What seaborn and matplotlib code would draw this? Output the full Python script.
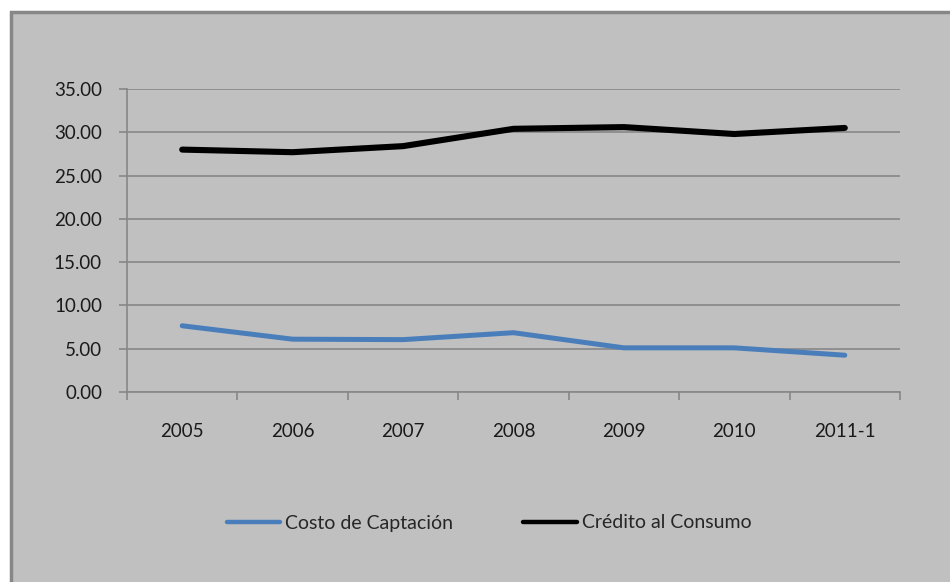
import matplotlib
matplotlib.use("Agg")
import matplotlib.pyplot as plt
import matplotlib.patches as mpatches
import seaborn as sns
import pandas as pd

# Annual interest rates (%)
periods = ["2005", "2006", "2007", "2008", "2009", "2010", "2011-1"]
costo_captacion = [7.65, 6.10, 6.05, 6.85, 5.10, 5.10, 4.25]
credito_consumo = [28.0, 27.7, 28.4, 30.4, 30.6, 29.8, 30.5]
series_names = ["Costo de Captación", "Crédito al Consumo"]
y_ticks = [0, 5, 10, 15, 20, 25, 30, 35]

df = pd.DataFrame({
    "periodo": periods * 2,
    "x": list(range(len(periods))) * 2,
    "tasa": costo_captacion + credito_consumo,
    "serie": [series_names[0]] * len(periods) + [series_names[1]] * len(periods),
})

sns.set_theme(style="white")
plt.rcParams["font.family"] = ["Lato", "DejaVu Sans"]

FS = 13.5
W, H = 950, 582
fig = plt.figure(figsize=(9.5, 5.82), dpi=100)
fig.patch.set_facecolor("white")

# gray chart area with darker border
frame = mpatches.Rectangle((10.5 / W, -0.01), 1.05, (H - 11.5) / H + 0.01,
                           transform=fig.transFigure, facecolor="#C0C0C0",
                           edgecolor="#878787", linewidth=2.5, zorder=-5)
fig.patches.append(frame)

ax = fig.add_axes([127 / W, 1 - 392 / H, (900 - 127) / W, (392 - 89) / H])
ax.set_zorder(1)
ax.patch.set_alpha(0)

palette = {series_names[0]: "#4A7EBB", series_names[1]: "#000000"}
sns.lineplot(data=df, x="x", y="tasa", hue="serie", palette=palette,
             ax=ax, linewidth=4.2, legend=False, zorder=3)
for line in ax.lines:
    line.set_solid_capstyle("round")
    line.set_solid_joinstyle("round")
ax.lines[0].set_linewidth(3.6)
ax.lines[1].set_linewidth(4.4)

ax.set_xlim(-0.5, len(periods) - 0.5)
ax.set_ylim(0, 35)
ax.set_yticks(y_ticks)
ax.set_yticklabels([f"{v:.2f}" for v in y_ticks], fontsize=FS, color="#1a1a1a")
ax.yaxis.grid(True, color="#878787", linewidth=1.2)
ax.set_axisbelow(True)

# category boundaries as major ticks, labels centered on minor ticks
ax.set_xticks([i - 0.5 for i in range(len(periods) + 1)])
ax.set_xticklabels([])
ax.set_xticks(range(len(periods)), minor=True)
ax.set_xticklabels(periods, minor=True, fontsize=FS, color="#1a1a1a")
ax.tick_params(axis="x", which="major", direction="out", length=6,
               color="#878787", width=1.2, bottom=True)
ax.tick_params(axis="x", which="minor", length=0, pad=22)
ax.tick_params(axis="y", direction="out", length=6, color="#878787",
               width=1.2, left=True, pad=12)

for side in ["top", "right"]:
    ax.spines[side].set_visible(False)
for side in ["left", "bottom"]:
    ax.spines[side].set_color("#878787")
    ax.spines[side].set_linewidth(1.2)

ax.set_xlabel("")
ax.set_ylabel("")

handles = [plt.Line2D([], [], color=palette[n], linewidth=3.2) for n in series_names]
fig.legend(handles, series_names, loc="center", bbox_to_anchor=(489 / W, 1 - 523 / H),
           ncol=2, frameon=False, fontsize=14, handlelength=2.75,
           handletextpad=0.25, columnspacing=3.6)

fig.savefig("out.png", dpi=100, facecolor=fig.get_facecolor())
